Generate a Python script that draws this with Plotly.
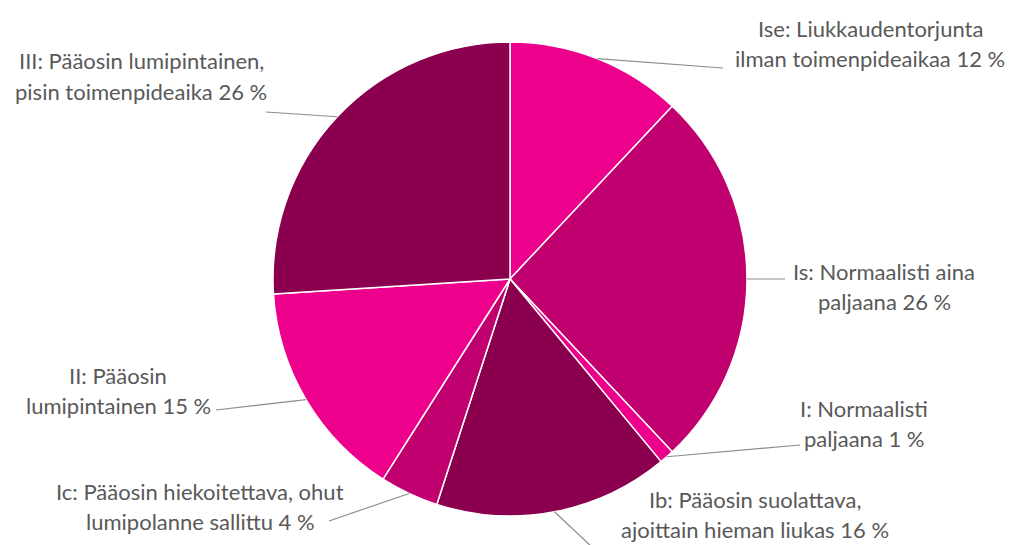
import math
import plotly.graph_objects as go

# Road maintenance classes and their share of the network (%)
classes = ["Ise", "Is", "I", "Ib", "Ic", "II", "III"]
descriptions = [
    "Liukkaudentorjunta<br>ilman toimenpideaikaa",
    "Normaalisti aina<br>paljaana",
    "Normaalisti<br>paljaana",
    "Pääosin suolattava,<br>ajoittain hieman liukas",
    "Pääosin hiekoitettava, ohut<br>lumipolanne sallittu",
    "Pääosin<br>lumipintainen",
    "Pääosin lumipintainen,<br>pisin toimenpideaika",
]
shares = [12, 26, 1, 16, 4, 15, 26]
colors = ["#EC008C", "#C0006F", "#EC008C", "#8A004F", "#C0006F", "#EC008C", "#8A004F"]

W, H = 1013, 545
CX, CY, R = 510, 279, 237  # pie centre and radius in pixels

# Label block centres (pixels) and where each leader line meets its label
label_pos = [(870, 43), (884, 286), (864, 423), (755, 514), (200, 506), (118, 390), (141, 76)]
line_ends = [(723, 68), (785, 279), (800, 445), (593, 548), (329, 521), (216, 410), (266, 112)]

TEXT_COLOR = "#595959"
FONT = "Lato, 'Open Sans', sans-serif"
FONT_SIZE = 22
LINE_GAP = 30


def px(x):
    return x / W


def py(y):
    return 1 - y / H


fig = go.Figure(
    go.Pie(
        labels=classes,
        values=shares,
        sort=False,
        direction="clockwise",
        rotation=0,
        marker=dict(colors=colors, line=dict(color="white", width=1.5)),
        textinfo="none",
        domain=dict(x=[px(CX - R), px(CX + R)], y=[py(CY + R), py(CY - R)]),
        showlegend=False,
    )
)

total = sum(shares)
shapes = []
annotations = []
cum = 0
for cls, desc, val, (lx, ly), (ex, ey) in zip(classes, descriptions, shares, label_pos, line_ends):
    mid = (cum + val / 2) / total
    cum += val
    ang = 2 * math.pi * mid
    sx = CX + R * math.sin(ang)
    sy = CY - R * math.cos(ang)
    shapes.append(
        dict(type="line", xref="paper", yref="paper",
             x0=px(sx), y0=py(sy), x1=px(ex), y1=py(ey),
             line=dict(color="#8c8c8c", width=1.2))
    )
    lines = f"{cls}: {desc} {val} %".split("<br>")
    n = len(lines)
    for i, txt in enumerate(lines):
        y = ly + (i - (n - 1) / 2) * LINE_GAP
        annotations.append(
            dict(text=txt, x=px(lx), y=py(y), xref="paper", yref="paper",
                 xanchor="center", yanchor="middle", showarrow=False,
                 font=dict(family=FONT, size=FONT_SIZE, color=TEXT_COLOR))
        )

fig.update_layout(
    width=W, height=H,
    margin=dict(l=0, r=0, t=0, b=0),
    paper_bgcolor="white",
    plot_bgcolor="white",
    shapes=shapes,
    annotations=annotations,
)

fig.write_html("out.html")
